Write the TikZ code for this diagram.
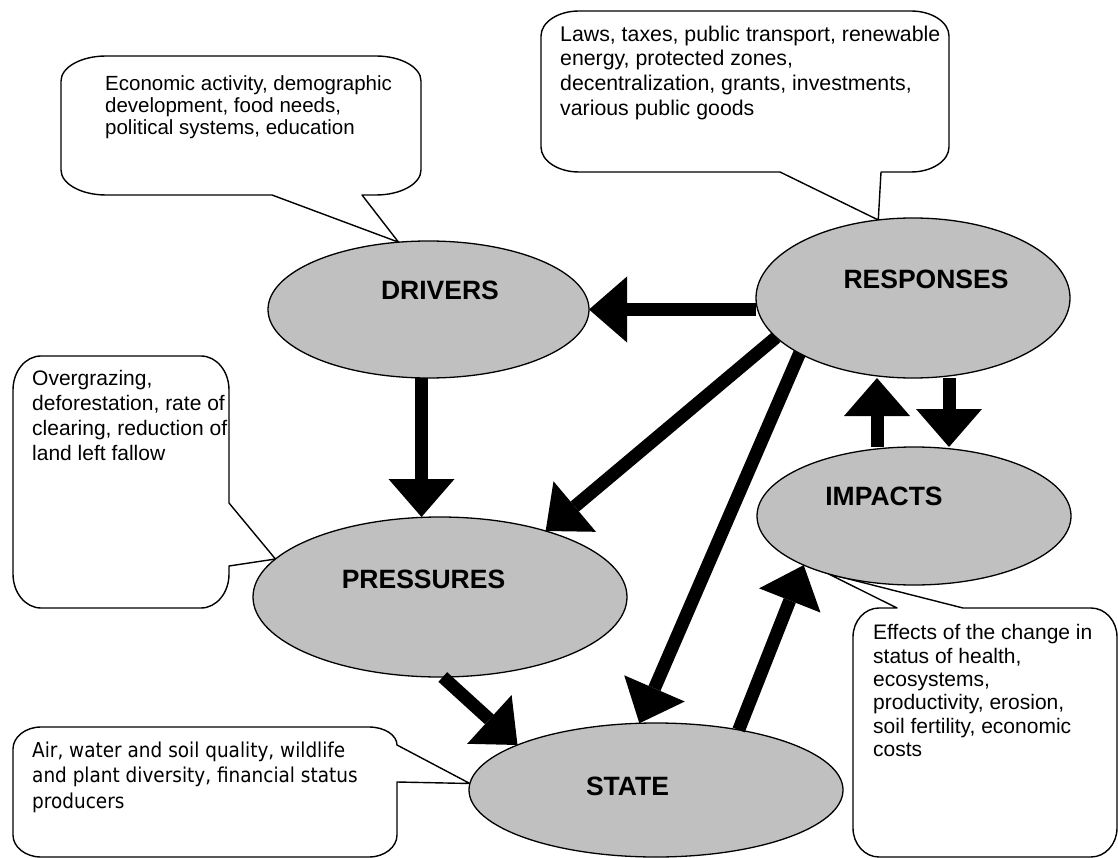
\documentclass[tikz,border=0pt]{standalone}
\usepackage{fontspec}
\setmainfont{Liberation Sans}
\newfontfamily\airfont{DejaVu Sans}[FakeStretch=0.9]
\usetikzlibrary{shapes.geometric,arrows.meta,backgrounds}
\definecolor{ellgray}{HTML}{C0C0C0}
\begin{document}
\begin{tikzpicture}[x=1pt,y=-1pt,
  ell/.style={ellipse,draw=black,line width=1.3pt,fill=ellgray,inner sep=0pt,outer sep=0pt},
  lbl/.style={inner sep=0pt,font=\bfseries\fontsize{26.5}{30}\selectfont},
  callout/.style={draw=black,fill=white,line width=1.4pt,line join=round},
  txt/.style={anchor=north west,inner sep=0pt,align=left},
  bigarrow/.style={line width=13pt,-{Triangle[length=38pt,width=66pt,line width=0pt]}}]
\useasboundingbox (0,0) rectangle (1118,858);

% ellipses
\node[ell,minimum width=321pt,minimum height=137pt] (drv) at (428.5,309.5) {};
\node[ell,minimum width=314pt,minimum height=160pt] (rsp) at (913,298) {};
\node[ell,minimum width=314pt,minimum height=138pt] (imp) at (914,516) {};
\node[ell,minimum width=374pt,minimum height=160pt] (prs) at (440,597) {};
\node[ell,minimum width=374pt,minimum height=134pt] (sta) at (656,790) {};

\node[lbl] (drvt) at (440,290) {DRIVERS};
\node[lbl] (rspt) at (926,279) {RESPONSES};
\node[lbl] (impt) at (884,496) {IMPACTS};
\node[lbl] (prst) at (423.5,579) {PRESSURES};
\node[lbl] (stat) at (627.5,786) {STATE};

% arrows
\draw[bigarrow] (rsp.west |- drv.east) -- (drv.east);
\draw[bigarrow] ([xshift=-7pt]drv.south) -- ([xshift=-7pt]drv.south |- prs.north);
\draw[bigarrow] (rsp.196.6) -- (prs.32);
\draw[bigarrow] (rsp.206.2) -- (sta.104.8);
\draw[bigarrow] (sta.36.65) -- (imp.204.2);
\draw[bigarrow] ([xshift=-37pt]imp.north) -- ([xshift=-37pt]imp.north |- rsp.south);
\draw[bigarrow] ([xshift=36pt]rsp.south) -- ([xshift=36pt]rsp.south |- imp.north);
\draw[bigarrow] (prs.272.9) -- (sta.162.2);

% callouts
\begin{scope}[on background layer]
\draw[callout] (106,56) -- (376,56) .. controls (400.8,56) and (421,67.2) .. (421,81)
  -- (421,170) .. controls (421,183.8) and (400.8,195) .. (376,195)
  -- (362,195) -- (drv.114.7) -- (272,195)
  -- (106,195) .. controls (81.2,195) and (61,183.8) .. (61,170)
  -- (61,81) .. controls (61,67.2) and (81.2,56) .. (106,56) -- cycle;
\draw[callout] (579,11) -- (911,11) .. controls (932,11) and (949,22.2) .. (949,36)
  -- (949,147) .. controls (949,160.8) and (932,172) .. (911,172)
  -- (881,172) -- (rsp.114) -- (780,172)
  -- (579,172) .. controls (558,172) and (541,160.8) .. (541,147)
  -- (541,36) .. controls (541,22.2) and (558,11) .. (579,11) -- cycle;
\draw[callout] (41,356) -- (201,356) .. controls (216.5,356) and (229,371.2) .. (229,390)
  -- (229,503) -- (prs.167.6) -- (229,566)
  -- (229,574) .. controls (229,592.8) and (216.5,608) .. (201,608)
  -- (41,608) .. controls (25.5,608) and (13,592.8) .. (13,574)
  -- (13,390) .. controls (13,371.2) and (25.5,356) .. (41,356) -- cycle;
\draw[callout] (41,727) -- (369,727) .. controls (384.5,727) and (397,735.1) .. (397,745)
  -- (sta.178.5) -- (397,782)
  -- (397,835) .. controls (397,847.1) and (384.5,857) .. (369,857)
  -- (41,857) .. controls (25.5,857) and (13,847.1) .. (13,835)
  -- (13,749) .. controls (13,736.9) and (25.5,727) .. (41,727) -- cycle;
\draw[callout] (879,608) -- (897,608) -- (imp.214.8) -- (963,608)
  -- (1091,608) .. controls (1105.4,608) and (1117,621) .. (1117,637)
  -- (1117,828) .. controls (1117,844) and (1105.4,857) .. (1091,857)
  -- (879,857) .. controls (864.6,857) and (853,844) .. (853,828)
  -- (853,637) .. controls (853,621) and (864.6,608) .. (879,608) -- cycle;
\end{scope}

% callout texts
\node[txt,font=\fontsize{20.5}{22}\selectfont] (t1) at (105,75.5)
  {Economic activity, demographic\\development, food needs,\\political systems, education};
\node[txt,font=\fontsize{21.3}{24.7}\selectfont] (t2) at (560,25.5)
  {Laws, taxes, public transport, renewable\\energy, protected zones,\\decentralization, grants, investments,\\various public goods};
\node[txt,font=\fontsize{21}{24.7}\selectfont] (t3) at (32,370.5)
  {Overgrazing,\\deforestation, rate of\\clearing, reduction of\\land left fallow};
\node[txt,font=\airfont\fontsize{20.5}{25.5}\selectfont] (t4) at (32,741.5)
  {Air, water and soil quality, wildlife\\and plant diversity, financial status\\producers};
\node[txt,font=\fontsize{21}{23.3}\selectfont] (t5) at (873,624.5)
  {Effects of the change in\\status of health,\\ecosystems,\\productivity, erosion,\\soil fertility, economic\\costs};
\end{tikzpicture}
\end{document}
